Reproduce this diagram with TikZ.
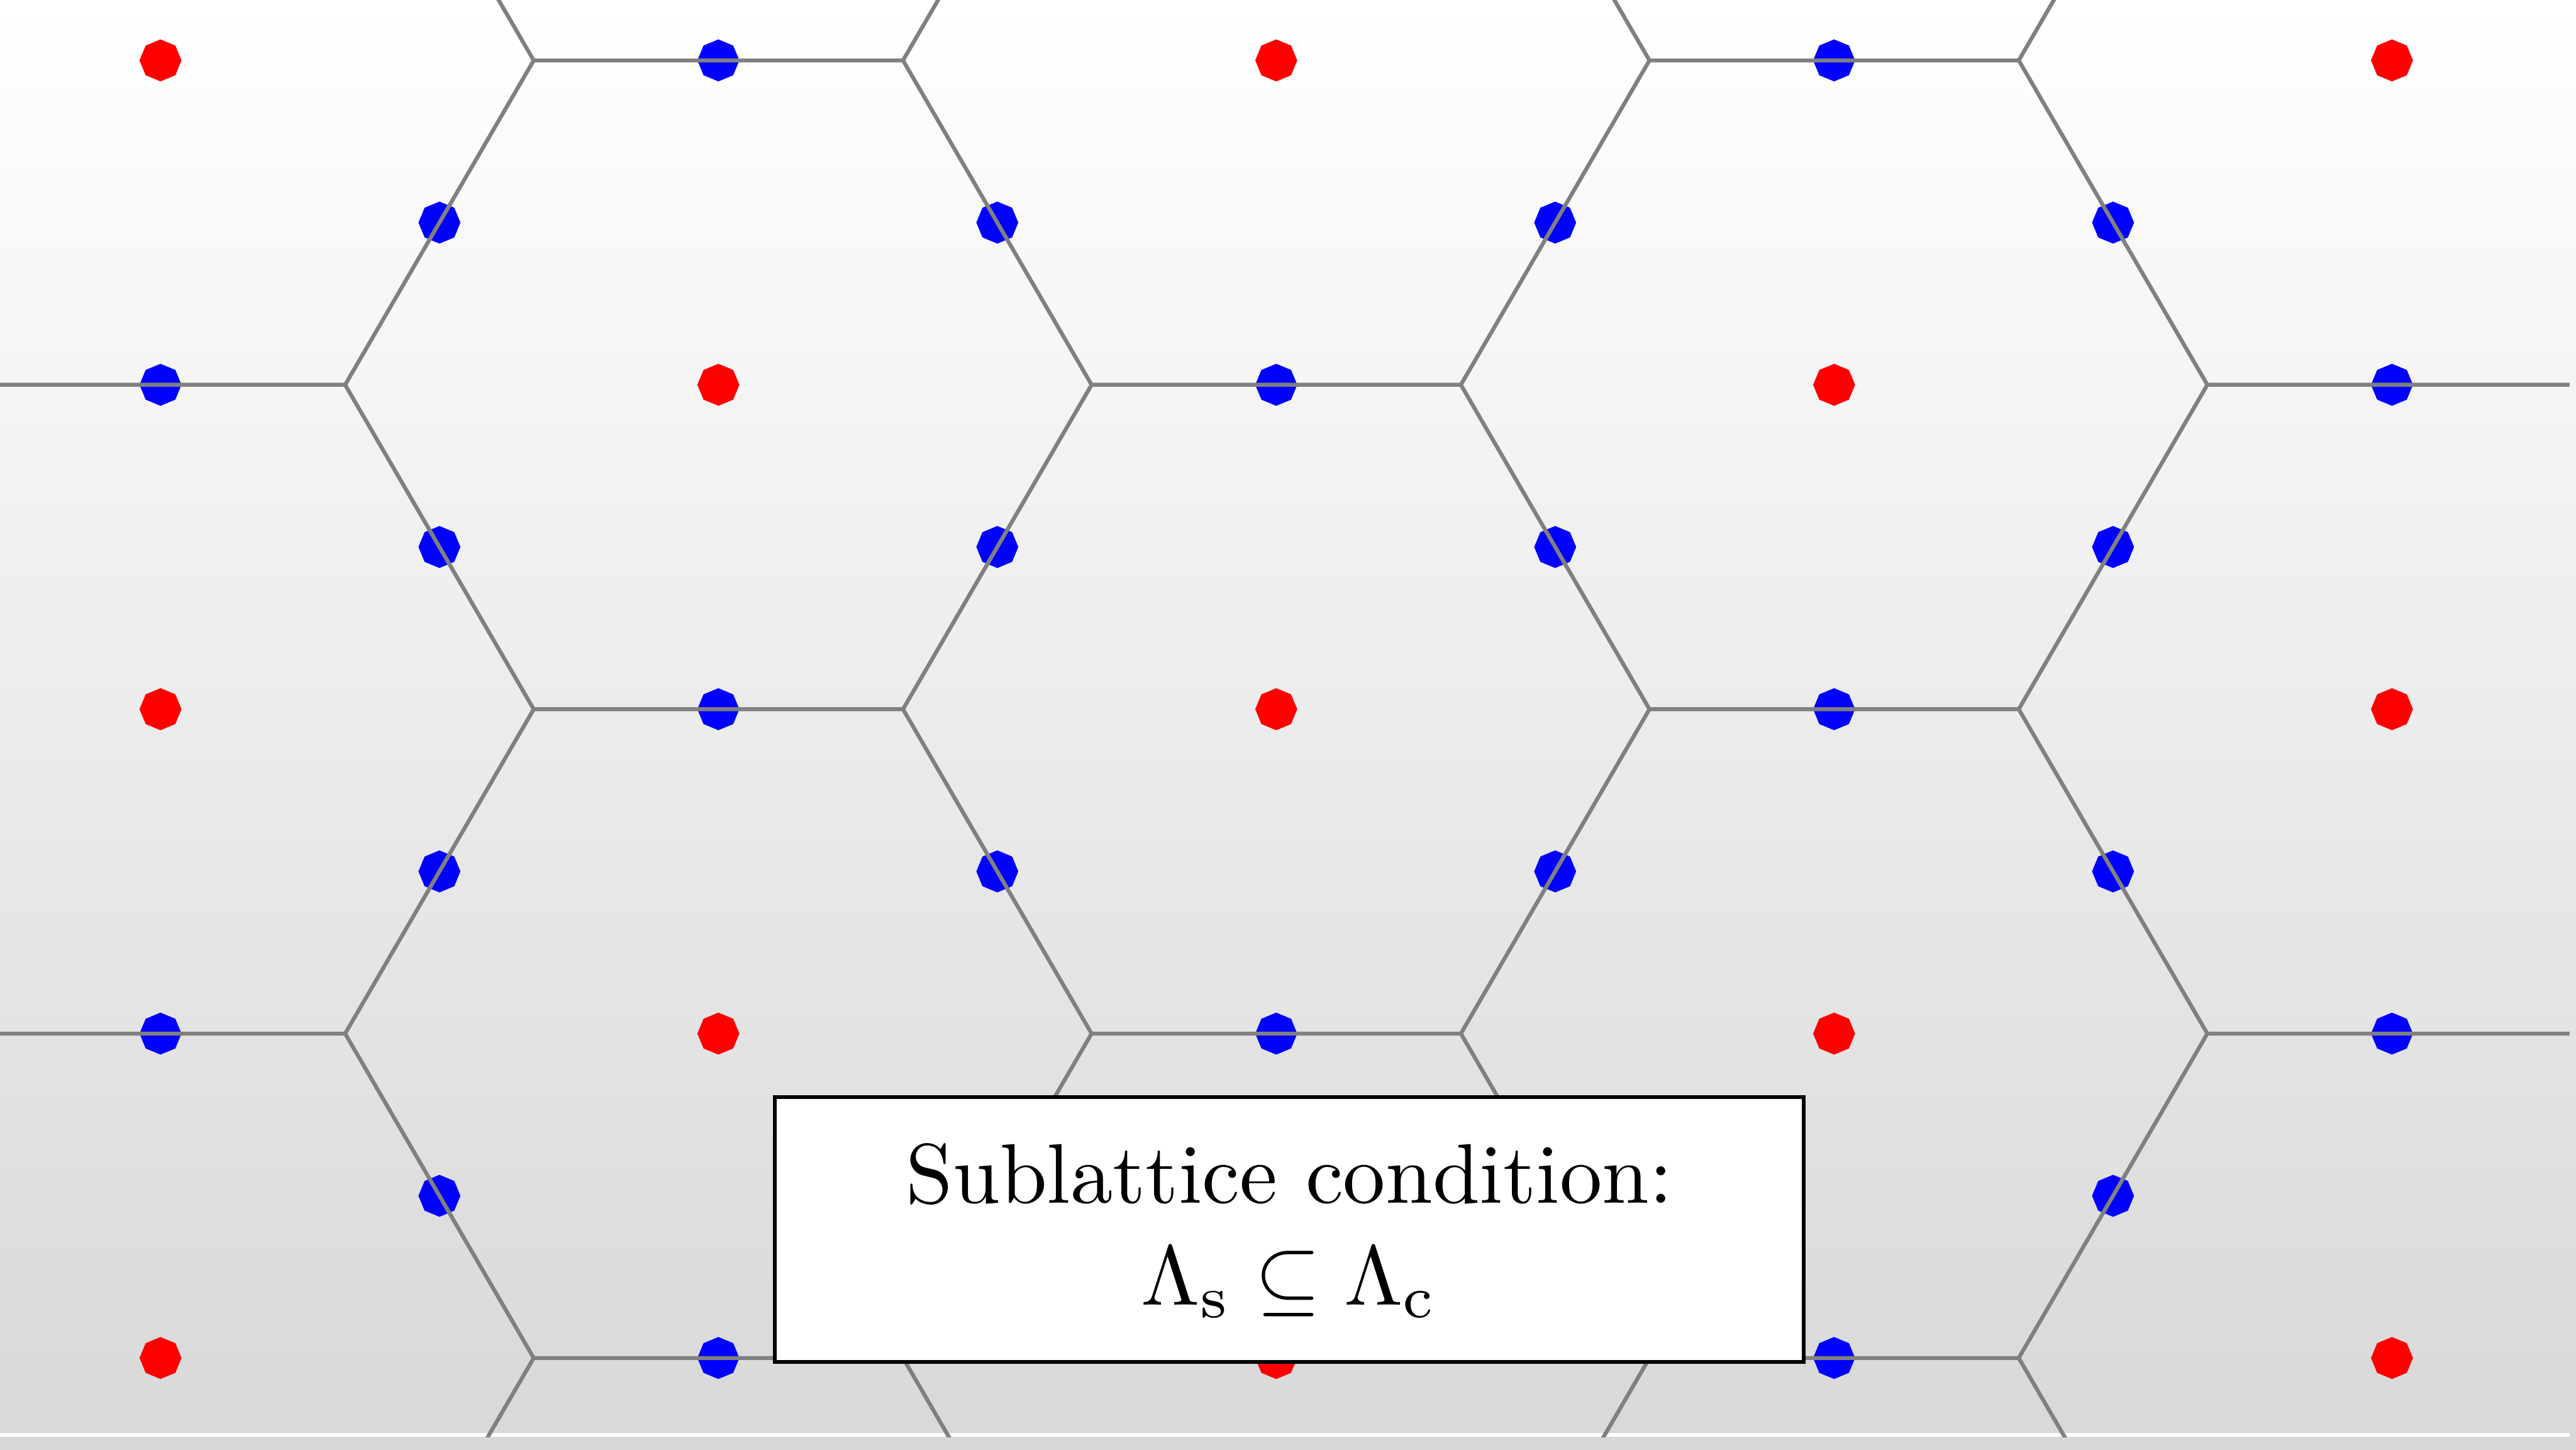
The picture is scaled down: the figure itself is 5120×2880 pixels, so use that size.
\RequirePackage{fix-cm}
\documentclass[tikz,border=0pt]{standalone}
\usepackage{graphicx}
\usetikzlibrary{shapes.geometric}
\definecolor{bgbottom}{RGB}{216,216,216}
\definecolor{hexgray}{RGB}{128,128,128}
\begin{document}
\begin{tikzpicture}[x=0.01cm,y=-0.01cm,
  dotbase/.style={regular polygon, regular polygon sides=8, shape border rotate=22.5,
    minimum size=0.834cm, inner sep=0pt, outer sep=0pt, draw=none},
  reddot/.style={dotbase, fill=red},
  bluedot/.style={dotbase, fill=blue},
  hexline/.style={draw=hexgray, line width=0.075cm, line join=miter},
  labelbox/.style={draw=black, fill=white, line width=0.075cm, minimum width=20.44cm,
    minimum height=5.26cm, inner sep=0pt},
  labeltext/.style={inner sep=0pt, outer sep=0pt, anchor=base}
]
\useasboundingbox (0,0) rectangle (5120,2880);
\shade[top color=white, bottom color=bgbottom] (0,0) rectangle (5120,2880);
\fill[white] (0,2847) rectangle (5107,2855);
% lattice constants (pixels)
\def\ox{319}\def\oy{120}\def\w{1108.8}\def\h{644.6}
\def\t{367.0}\def\s{741.8}
% blue dots on half-integer points
\foreach \k in {0,...,3}{
  \foreach \m in {0,...,3}{
    \node[bluedot] (bh-\k-\m) at ({\ox+\w*(\k+0.5)},{\oy+\h*(\m+0.5)}) {};
  }
}
% integer points: red if k+m even, blue otherwise
\foreach \k in {0,...,4}{
  \foreach \m in {0,...,4}{
    \pgfmathtruncatemacro\parity{mod(\k+\m,2)}
    \ifnum\parity=0
      \node[reddot] (r-\k-\m) at ({\ox+\w*\k},{\oy+\h*\m}) {};
    \else
      \node[bluedot] (b-\k-\m) at ({\ox+\w*\k},{\oy+\h*\m}) {};
    \fi
  }
}
% honeycomb (Voronoi cells of the red lattice)
\begin{scope}
  \clip (0,0) rectangle (5107,2855);
  \foreach \k in {-1,...,5}{
    \foreach \m in {-1,...,5}{
      \pgfmathtruncatemacro\parity{mod(\k+\m+10,2)}
      \ifnum\parity=0
        \pgfmathsetmacro\cx{\ox+\w*\k}
        \pgfmathsetmacro\cy{\oy+\h*\m}
        \draw[hexline] ({\cx-\t},{\cy-\h}) -- ({\cx+\t},{\cy-\h}) -- ({\cx+\s},{\cy})
          -- ({\cx+\t},{\cy+\h}) -- ({\cx-\t},{\cy+\h}) -- ({\cx-\s},{\cy}) -- cycle;
      \fi
    }
  }
\end{scope}
\node[labelbox] (box) at (2562.5,2443) {};
\node[labeltext] (label) at (2562.5,2391)
  {\scalebox{4.785}{\begin{tabular}[t]{@{}c@{}}Sublattice condition:\\
   $\Lambda_{\mathrm{s}} \subseteq \Lambda_{\mathrm{c}}$\end{tabular}}};
\end{tikzpicture}
\end{document}
